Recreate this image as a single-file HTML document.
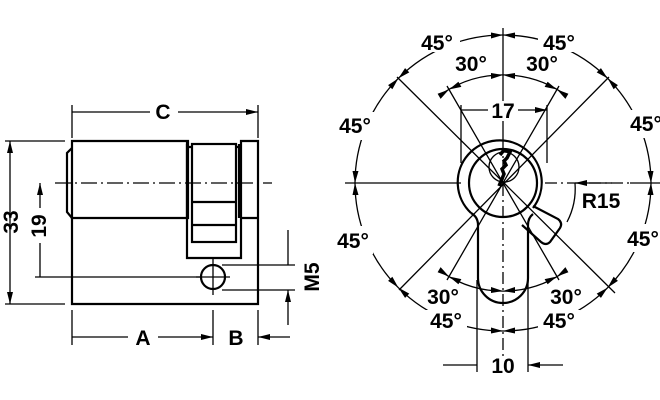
<!DOCTYPE html>
<html><head><meta charset="utf-8"><style>
html,body{margin:0;padding:0;background:#fff}
svg{display:block}
text{font-family:"Liberation Sans",sans-serif;font-weight:bold;font-size:21px;fill:#000}
</style></head><body>
<svg width="660" height="400" viewBox="0 0 660 400" xmlns="http://www.w3.org/2000/svg">
<defs>
<marker id="a" viewBox="0 0 12 6" refX="12" refY="3" markerWidth="12" markerHeight="6" orient="auto-start-reverse" markerUnits="userSpaceOnUse"><path d="M0,0L12,3L0,6z" fill="#000"/></marker>
<path id="ah" d="M0,-148l-12,-2.5v6z M0,-148l12,-2.5v6z" fill="#000"/>
<path id="ah2" d="M0,-108l-12,-2v6z M0,-108l12,-2v6z" fill="#000"/>
</defs>
<g stroke="#000" fill="none" stroke-width="1.3">
<g stroke-width="2.2">
<path d="M72,141H188V218H72Z"/>
<path d="M72,148L67,153V212L72,218"/>
<path d="M72,218V304H258V141H241V258H187V141"/>
<path d="M189,147H192M236,147H239"/>
<rect x="192" y="144" width="44" height="98"/>
<path d="M192,202H236M192,225H236"/>
<path d="M187,144V218M239,144V218M241,218H258"/>
<circle cx="213" cy="277" r="12"/>
</g>
<path d="M55,183H272" stroke-dasharray="16,4,2,4"/>
<path d="M213,258V295M196,277H230"/>
<path d="M5,141H65M5,304H65"/>
<path d="M10,141V304" marker-start="url(#a)" marker-end="url(#a)"/>
<path d="M35,277H200"/>
<path d="M40,183V208M40,243V277" marker-start="url(#a)"/>
<path d="M72,105V138M258,105V138"/>
<path d="M150,112H72M178,112H258" marker-end="url(#a)"/>
<path d="M72,310V345M213,310V345M258,310V345"/>
<path d="M128,337H72M158,337H213" marker-end="url(#a)"/>
<path d="M290,337H258" marker-end="url(#a)"/>
<path d="M222,265H295M222,290H295"/>
<path d="M288,230V265M288,325V290" marker-end="url(#a)"/>

<path d="M503,28V140M345,183H461M630,183H660"/>
<path d="M503,140V375M545,183H630" stroke-dasharray="12,4,2,4"/>
<g stroke-width="2.2">
<path d="M471,213A42,42 0 1 1 533,208"/>
<circle cx="503" cy="183" r="34"/>
<circle cx="504" cy="167" r="15" stroke-width="1.3"/>
<path d="M471,213Q478,217 478,225V278A25,25 0 0 0 528,278V225Q528,218 533,214"/>
<path d="M533,206L558,219Q563,223 560,228L550,242Q546,246 541,242L522,225"/>
</g>
<path d="M500,155l4,-5l6,2l-3,6l-3,3l2,4l-4,4l2,5l-5,12" stroke-width="3.5"/>
<path d="M397,77L615,293M609,77L399,290"/>
<path d="M447,86L559,280M559,86L447,280"/>
<path d="M503,35A148,148 0 0 1 651,183A148,148 0 0 1 503,331A148,148 0 0 1 355,183A148,148 0 0 1 503,35"/>
<path d="M444,92.4A108,108 0 0 1 562,92.4M444,273.6A108,108 0 0 0 562,273.6"/>
<path d="M461,105V163M547,105V163"/>
<path d="M488,110H461M518,110H547" marker-end="url(#a)"/>
<path d="M477,280V372M528,280V372"/>
<path d="M443,365H477M563,365H528" marker-end="url(#a)"/>
<path d="M612,183H575" marker-end="url(#a)"/>
<path d="M575,183A72,72 0 0 1 567,222"/>
</g>
<g fill="#fff">
<rect x="416" y="28" width="44" height="24"/><rect x="538" y="28" width="44" height="24"/>
<rect x="336" y="112" width="38" height="28"/><rect x="630" y="110" width="30" height="28"/>
<rect x="333" y="226" width="40" height="28"/><rect x="626" y="224" width="34" height="28"/>
<rect x="425" y="310" width="42" height="24"/><rect x="538" y="310" width="42" height="24"/>
<rect x="491" y="101" width="24" height="20"/><rect x="490" y="356" width="26" height="20"/>
</g>
<g transform="translate(503 183)">
<use href="#ah"/><use href="#ah" transform="rotate(45)"/><use href="#ah" transform="rotate(90)"/><use href="#ah" transform="rotate(135)"/>
<use href="#ah" transform="rotate(180)"/><use href="#ah" transform="rotate(-45)"/><use href="#ah" transform="rotate(-90)"/><use href="#ah" transform="rotate(-135)"/>
<use href="#ah2"/><use href="#ah2" transform="rotate(30)"/><use href="#ah2" transform="rotate(-30)"/>
<use href="#ah2" transform="rotate(180)"/><use href="#ah2" transform="rotate(150)"/><use href="#ah2" transform="rotate(210)"/>
</g>
<g text-anchor="middle">
<text x="163" y="119">C</text>
<text x="143" y="345">A</text>
<text x="236" y="345">B</text>
<text transform="translate(18,222) rotate(-90)">33</text>
<text transform="translate(46,226) rotate(-90)">19</text>
<text transform="translate(319,277) rotate(-90)">M5</text>
<text x="437" y="50">45°</text><text x="559" y="50">45°</text>
<text x="471" y="71">30°</text><text x="542" y="71">30°</text>
<text x="355" y="133">45°</text><text x="646" y="131">45°</text>
<text x="353" y="248">45°</text><text x="643" y="246">45°</text>
<text x="443" y="304">30°</text><text x="566" y="304">30°</text>
<text x="446" y="328">45°</text><text x="559" y="328">45°</text>
<text x="503" y="118">17</text>
<text x="503" y="373">10</text>
<text x="601" y="208">R15</text>
</g>
</svg>
</body></html>
